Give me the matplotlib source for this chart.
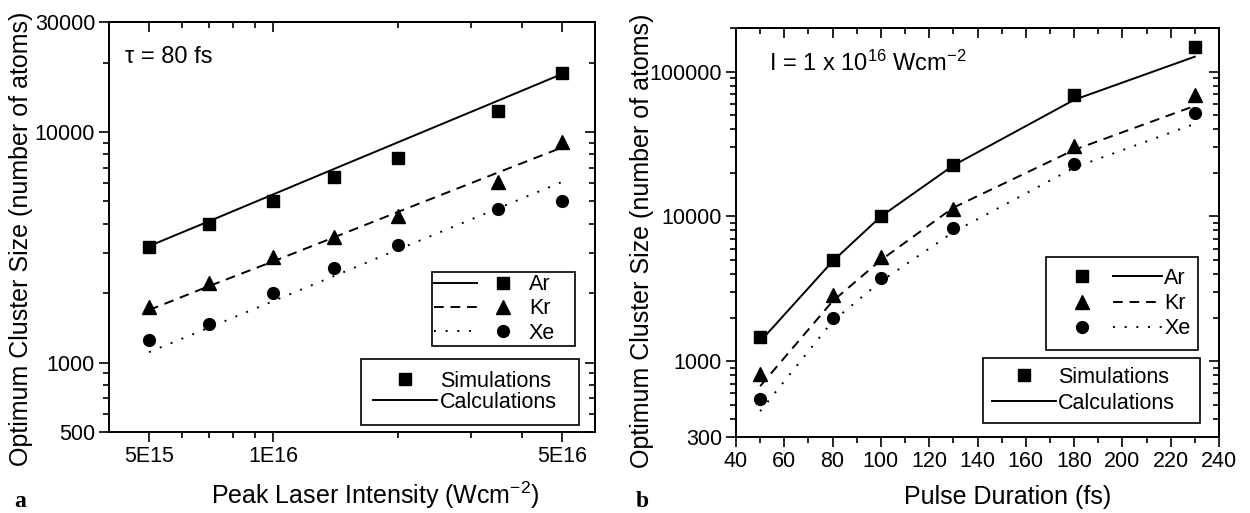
import matplotlib
matplotlib.use('Agg')
import matplotlib.pyplot as plt
from matplotlib.legend_handler import HandlerTuple
from matplotlib.ticker import FixedLocator, FixedFormatter, NullFormatter

plt.rcParams['font.family'] = ['Liberation Sans', 'DejaVu Sans']
plt.rcParams['mathtext.fontset'] = 'custom'
plt.rcParams['mathtext.rm'] = 'Liberation Sans'
plt.rcParams['mathtext.it'] = 'Liberation Sans:italic'
plt.rcParams['mathtext.bf'] = 'Liberation Sans:bold'

# panel a : tau = 80 fs, size vs peak intensity
intensity = [5e15, 7e15, 1e16, 1.4e16, 2e16, 3.5e16, 5e16]
sim_ar_a = [3160, 3980, 5030, 6400, 7690, 12300, 18050]
sim_kr_a = [1750, 2220, 2880, 3520, 4330, 6080, 9020]
sim_xe_a = [1250, 1470, 2010, 2580, 3230, 4630, 5030]
calc_ar_a = [3200, 4110, 5370, 6910, 9020, 13690, 17870]
calc_kr_a = [1690, 2150, 2750, 3490, 4500, 6680, 8580]
calc_xe_a = [1110, 1420, 1850, 2370, 3090, 4670, 6080]

# panel b : I = 1e16, size vs pulse duration
duration = [50, 80, 100, 130, 180, 230]
sim_ar_b = [1470, 5000, 10100, 22700, 69000, 148700]
sim_kr_b = [823, 2885, 5250, 11200, 30700, 69000]
sim_xe_b = [553, 1990, 3760, 8320, 23100, 52100]
calc_ar_b = [1370, 4900, 10000, 22500, 63800, 126800]
calc_kr_b = [673, 2600, 5000, 11500, 28800, 58000]
calc_xe_b = [452, 1890, 3560, 7800, 21700, 43600]

xmaj_a = [5e15, 1e16, 5e16]
xlab_a = ['5E15', '1E16', '5E16']
xmin_a = [6e15, 7e15, 8e15, 9e15, 2e16, 3e16, 4e16]
ymaj_a = [500, 1000, 10000, 30000]
ymin_a = [600, 700, 800, 900] + [k * 1000 for k in range(2, 10)] + [20000]

xmaj_b = list(range(40, 241, 20))
xmin_b = list(range(50, 240, 20))
ymaj_b = [300, 1000, 10000, 100000]
ymin_b = ([k * 100 for k in range(4, 10)] + [k * 1000 for k in range(2, 10)]
          + [k * 10000 for k in range(2, 10)] + [200000])

W, H = 1250, 513
fig = plt.figure(figsize=(12.5, 5.13), dpi=100)
ax1 = fig.add_axes([109 / W, 1 - 432 / H, 486 / W, 410 / H])
ax2 = fig.add_axes([736 / W, 1 - 437 / H, 483 / W, 409 / H])

ms = 8.5
lw = 1.4
dash = (0, (5, 3.5))
dot = (0, (1, 5))


def style_axes(ax, xmaj, xlab, xmin, ymaj, ymin):
    ax.xaxis.set_major_locator(FixedLocator(xmaj))
    ax.xaxis.set_major_formatter(FixedFormatter(xlab))
    ax.xaxis.set_minor_locator(FixedLocator(xmin))
    ax.xaxis.set_minor_formatter(NullFormatter())
    ax.yaxis.set_major_locator(FixedLocator(ymaj))
    ax.yaxis.set_major_formatter(FixedFormatter([str(v) for v in ymaj]))
    ax.yaxis.set_minor_locator(FixedLocator(ymin))
    ax.yaxis.set_minor_formatter(NullFormatter())
    ax.tick_params(which='both', direction='out', width=1.2, labelsize=15.5,
                   pad=3)
    ax.tick_params(which='major', length=7)
    ax.tick_params(which='minor', length=4)
    for s in ax.spines.values():
        s.set_linewidth(1.4)
    # mirrored ticks pointing inwards on top and right
    top = ax.secondary_xaxis('top')
    top.xaxis.set_major_locator(FixedLocator(xmaj))
    top.xaxis.set_minor_locator(FixedLocator(xmin))
    top.tick_params(which='both', direction='in', width=1.2, labeltop=False)
    top.tick_params(which='major', length=7)
    top.tick_params(which='minor', length=4)
    right = ax.secondary_yaxis('right')
    right.yaxis.set_major_locator(FixedLocator(ymaj))
    right.yaxis.set_minor_locator(FixedLocator(ymin))
    right.tick_params(which='both', direction='in', width=1.2, labelright=False)
    right.tick_params(which='major', length=7)
    right.tick_params(which='minor', length=4)
    for sec in (top, right):
        for s in sec.spines.values():
            s.set_linewidth(1.4)


def box(x0, top, width):
    # legend anchor box in figure fraction, given pixel left / top / width
    return (x0 / W, 1 - top / H - 0.05, width / W, 0.05)


# ---- panel a
ax1.set_xscale('log')
ax1.set_yscale('log')
ax1.set_xlim(4e15, 6e16)
ax1.set_ylim(500, 30000)
la_ar, = ax1.plot(intensity, calc_ar_a, color='k', lw=lw, ls='-')
la_kr, = ax1.plot(intensity, calc_kr_a, color='k', lw=lw, ls=dash)
la_xe, = ax1.plot(intensity, calc_xe_a, color='k', lw=lw, ls=dot)
ma_ar, = ax1.plot(intensity, sim_ar_a, 'ks', ms=ms, ls='none')
ma_kr, = ax1.plot(intensity, sim_kr_a, 'k^', ms=ms + 1, ls='none')
ma_xe, = ax1.plot(intensity, sim_xe_a, 'ko', ms=ms, ls='none')
style_axes(ax1, xmaj_a, xlab_a, xmin_a, ymaj_a, ymin_a)

ax1.set_xlabel('Peak Laser Intensity (Wcm$^{-2}$)', fontsize=18, va='center')
ax1.xaxis.set_label_coords(0.547, -0.154)
ax1.set_ylabel('Optimum Cluster Size (number of atoms)', fontsize=18, va='center')
ax1.yaxis.set_label_coords(-0.181, 0.47)
ax1.text(0.033, 0.915, 'τ = 80 fs', transform=ax1.transAxes, fontsize=17,
         ha='left', va='center')

leg_kw = dict(loc='upper left', mode='expand', bbox_transform=fig.transFigure,
              fancybox=False, framealpha=1, edgecolor='k', fontsize=15.5,
              borderaxespad=0)

leg = ax1.legend([(la_ar, ma_ar), (la_kr, ma_kr), (la_xe, ma_xe)],
                 ['Ar', 'Kr', 'Xe'],
                 handler_map={tuple: HandlerTuple(ndivide=None, pad=0.2)},
                 bbox_to_anchor=box(432, 272, 143),
                 handlelength=4.2, handletextpad=0.2, labelspacing=0.15,
                 borderpad=0.1, **leg_kw)
leg.get_frame().set_linewidth(1.2)
ax1.add_artist(leg)
leg = ax1.legend([ma_ar, la_ar], ['Simulations', 'Calculations'],
                 bbox_to_anchor=box(361, 359, 218),
                 handlelength=3.0, handletextpad=0.1, labelspacing=0.0,
                 borderpad=0.55, **leg_kw)
leg.get_frame().set_linewidth(1.2)

# ---- panel b
ax2.set_yscale('log')
ax2.set_xlim(40, 240)
ax2.set_ylim(300, 200000)
lb_ar, = ax2.plot(duration, calc_ar_b, color='k', lw=lw, ls='-')
lb_kr, = ax2.plot(duration, calc_kr_b, color='k', lw=lw, ls=dash)
lb_xe, = ax2.plot(duration, calc_xe_b, color='k', lw=lw, ls=dot)
mb_ar, = ax2.plot(duration, sim_ar_b, 'ks', ms=ms, ls='none')
mb_kr, = ax2.plot(duration, sim_kr_b, 'k^', ms=ms + 1, ls='none')
mb_xe, = ax2.plot(duration, sim_xe_b, 'ko', ms=ms, ls='none')
style_axes(ax2, xmaj_b, [str(v) for v in xmaj_b], xmin_b, ymaj_b, ymin_b)

ax2.set_xlabel('Pulse Duration (fs)', fontsize=18, va='center')
ax2.xaxis.set_label_coords(0.563, -0.147)
ax2.set_ylabel('Optimum Cluster Size (number of atoms)', fontsize=18, va='center')
ax2.yaxis.set_label_coords(-0.195, 0.48)
ax2.text(0.068, 0.914, 'I = 1 x 10$^{16}$ Wcm$^{-2}$', transform=ax2.transAxes,
         fontsize=17, ha='left', va='center')

leg = ax2.legend([(mb_ar, lb_ar), (mb_kr, lb_kr), (mb_xe, lb_xe)],
                 ['Ar', 'Kr', 'Xe'],
                 handler_map={tuple: HandlerTuple(ndivide=None, pad=0.3)},
                 bbox_to_anchor=box(1046, 257, 152),
                 handlelength=4.9, handletextpad=0.1, labelspacing=0.2,
                 borderpad=0.5, **leg_kw)
leg.get_frame().set_linewidth(1.2)
ax2.add_artist(leg)
leg = ax2.legend([mb_ar, lb_ar], ['Simulations', 'Calculations'],
                 bbox_to_anchor=box(983, 358, 217),
                 handlelength=3.0, handletextpad=0.1, labelspacing=0.25,
                 borderpad=0.4, **leg_kw)
leg.get_frame().set_linewidth(1.2)

# panel letters
fig.text(14 / W, 1 - 507 / H, 'a', fontsize=17, fontweight='bold',
         family='Liberation Serif', va='baseline')
fig.text(636 / W, 1 - 507 / H, 'b', fontsize=17, fontweight='bold',
         family='Liberation Serif', va='baseline')

fig.savefig('out.png', dpi=100)
